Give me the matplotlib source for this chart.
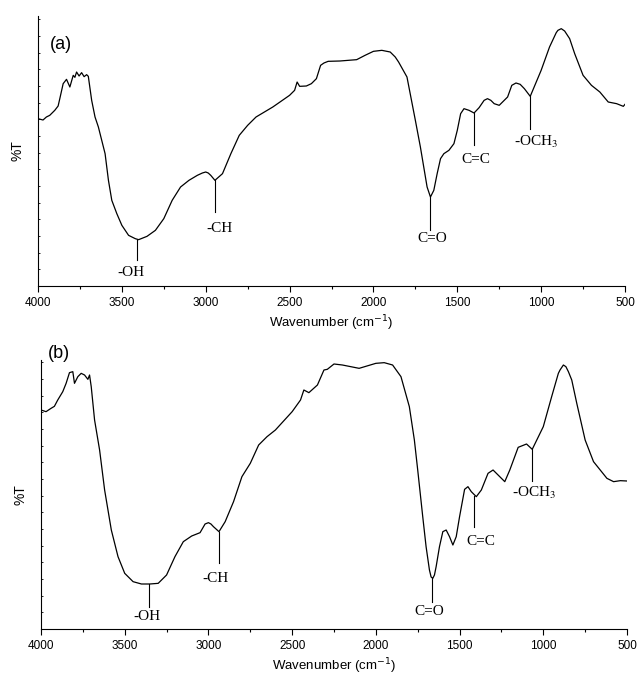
import matplotlib
matplotlib.use("Agg")
import matplotlib.pyplot as plt
from matplotlib.ticker import MultipleLocator

# ---------------- data (arbitrary %T units) ----------------
wn_a = [4000, 3970, 3950, 3930, 3900, 3880, 3870, 3850, 3830, 3810, 3790, 3780, 3770, 3755,
        3740, 3725, 3710, 3700, 3680, 3660, 3640, 3600, 3580, 3560, 3530, 3500, 3460, 3420,
        3400, 3350, 3300, 3250, 3200, 3150, 3100, 3050, 3020, 3000, 2985, 2970, 2945, 2900,
        2850, 2800, 2750, 2700, 2600, 2500, 2470, 2455, 2440, 2400, 2370, 2340, 2315, 2295,
        2270, 2200, 2100, 2050, 2000, 1950, 1900, 1870, 1850, 1800, 1750, 1720, 1700, 1680,
        1660, 1640, 1620, 1600, 1580, 1550, 1520, 1500, 1480, 1460, 1430, 1400, 1370, 1340,
        1320, 1300, 1280, 1250, 1200, 1175, 1150, 1125, 1100, 1065, 1000, 950, 910, 900, 880,
        860, 830, 800, 750, 700, 650, 600, 550, 510, 500]
t_a = [502, 498, 507, 512, 527, 540, 562, 607, 620, 597, 632, 626, 642, 630,
       640, 628, 634, 629, 557, 507, 477, 397, 317, 257, 217, 182, 152, 142,
       139, 149, 167, 202, 257, 297, 317, 332, 339, 342, 339, 332, 317, 337,
       397, 452, 482, 507, 537, 572, 587, 612, 599, 600, 607, 622, 662, 669,
       674, 675, 679, 692, 704, 707, 702, 687, 672, 627, 497, 417, 357, 297,
       267, 287, 337, 382, 397, 407, 427, 467, 517, 532, 527, 519, 535, 557,
       562, 557, 547, 542, 567, 602, 609, 605, 592, 569, 647, 717, 760, 767, 772,
       765, 742, 697, 632, 602, 582, 552, 547, 539, 545]

wn_b = [4000, 3970, 3940, 3920, 3900, 3870, 3850, 3830, 3810, 3800, 3780, 3760, 3740, 3720,
        3710, 3700, 3680, 3650, 3620, 3580, 3540, 3500, 3450, 3400, 3350, 3300, 3250, 3200,
        3150, 3100, 3050, 3020, 3000, 2985, 2970, 2937, 2900, 2850, 2800, 2750, 2700, 2650,
        2600, 2500, 2450, 2430, 2400, 2349, 2310, 2290, 2250, 2200, 2100, 2000, 1950, 1900,
        1850, 1800, 1770, 1750, 1720, 1700, 1680, 1670, 1660, 1650, 1640, 1620, 1600, 1580,
        1560, 1540, 1520, 1500, 1470, 1450, 1430, 1400, 1370, 1330, 1300, 1260, 1230, 1200,
        1150, 1100, 1066, 1000, 950, 910, 900, 880, 865, 850, 830, 800, 750, 700, 660, 620,
        580, 540, 500]
t_b = [657, 652, 662, 668, 687, 712, 737, 769, 772, 737, 757, 767, 762, 749,
       762, 727, 627, 537, 417, 297, 217, 167, 142, 135, 135, 137, 162, 217,
       262, 279, 289, 315, 319, 315, 307, 292, 322, 382, 457, 497, 552, 577,
       597, 652, 687, 717, 709, 732, 777, 779, 795, 792, 782, 797, 799, 792,
       757, 667, 567, 477, 337, 247, 177, 156, 152, 162, 187, 247, 292, 297,
       277, 252, 277, 337, 419, 427, 412, 397, 417, 467, 477, 457, 442, 477,
       545, 555, 539, 607, 697, 767, 777, 792, 787, 772, 747, 677, 567, 502, 477, 452,
       442, 445, 444]

# annotations: label, wavenumber, line top, line bottom, text x, text y
labels = ["-OH", "-CH", "C=O", "C=C", "-OCH$_3$"]
ann_a_wn = [3410, 2945, 1660, 1400, 1065]
ann_a_top = [139, 317, 267, 519, 569]
ann_a_bot = [79, 222, 167, 422, 472]
ann_a_tx = [3446, 2917, 1647, 1388, 1030]
ann_a_ty = [42, 172, 142, 379, 432]

ann_b_wn = [3353, 2937, 1665, 1412, 1066]
ann_b_top = [135, 292, 152, 400, 539]
ann_b_bot = [67, 197, 82, 307, 445]
ann_b_tx = [3367, 2960, 1681, 1375, 1056]
ann_b_ty = [39, 152, 52, 262, 409]

xticks = [4000, 3500, 3000, 2500, 2000, 1500, 1000, 500]

# ---------------- figure ----------------
plt.rcParams['font.family'] = ['Liberation Sans', 'DejaVu Sans']
fig = plt.figure(figsize=(6.38, 6.75), dpi=100)
ax_a = fig.add_axes([38 / 638, 389 / 675, 587 / 638, 270 / 675])
ax_b = fig.add_axes([41 / 638, 46 / 675, 586 / 638, 269 / 675])


def style(ax, ytop, wn, t, awn, atop, abot, atx, aty, tag, tagpos):
    ax.plot(wn, t, color='black', lw=0.9, solid_joinstyle='round')
    for lab, w, y1, y2, tx, ty in zip(labels, awn, atop, abot, atx, aty):
        ax.plot([w, w], [y1, y2], color='black', lw=0.8)
        ax.text(tx, ty, lab, ha='center', va='center', fontsize=11,
                family='Liberation Serif', math_fontfamily='stix')
    ax.set_xlim(4000, 500)
    ax.set_ylim(0, ytop)
    ax.spines['top'].set_visible(False)
    ax.spines['right'].set_visible(False)
    ax.spines['left'].set_linewidth(0.8)
    ax.spines['bottom'].set_linewidth(0.8)
    ax.set_xticks(xticks)
    ax.set_xticklabels([str(v) for v in xticks])
    ax.xaxis.set_minor_locator(MultipleLocator(250))
    ax.tick_params(axis='x', which='major', direction='out', length=4, width=0.8,
                   labelsize=8.5, pad=4)
    ax.tick_params(axis='x', which='minor', direction='out', length=2.5, width=0.8)
    ax.yaxis.set_major_locator(MultipleLocator(50))
    ax.tick_params(axis='y', which='major', direction='in', length=1.5, width=0.6,
                   labelleft=False)
    ax.set_ylabel('%T', fontsize=10, labelpad=10)
    ax.set_xlabel('Wavenumber (cm$^{-1}$)', fontsize=9.5, labelpad=3,
                  math_fontfamily='dejavusans')
    ax.text(tagpos[0], tagpos[1], tag, transform=ax.transAxes, fontsize=13,
            ha='left', va='center')


style(ax_a, 810, wn_a, t_a, ann_a_wn, ann_a_top, ann_a_bot, ann_a_tx, ann_a_ty,
      '(a)', (0.02, 0.893))
style(ax_b, 807, wn_b, t_b, ann_b_wn, ann_b_top, ann_b_bot, ann_b_tx, ann_b_ty,
      '(b)', (0.012, 1.026))

fig.savefig('out.png', dpi=100)
